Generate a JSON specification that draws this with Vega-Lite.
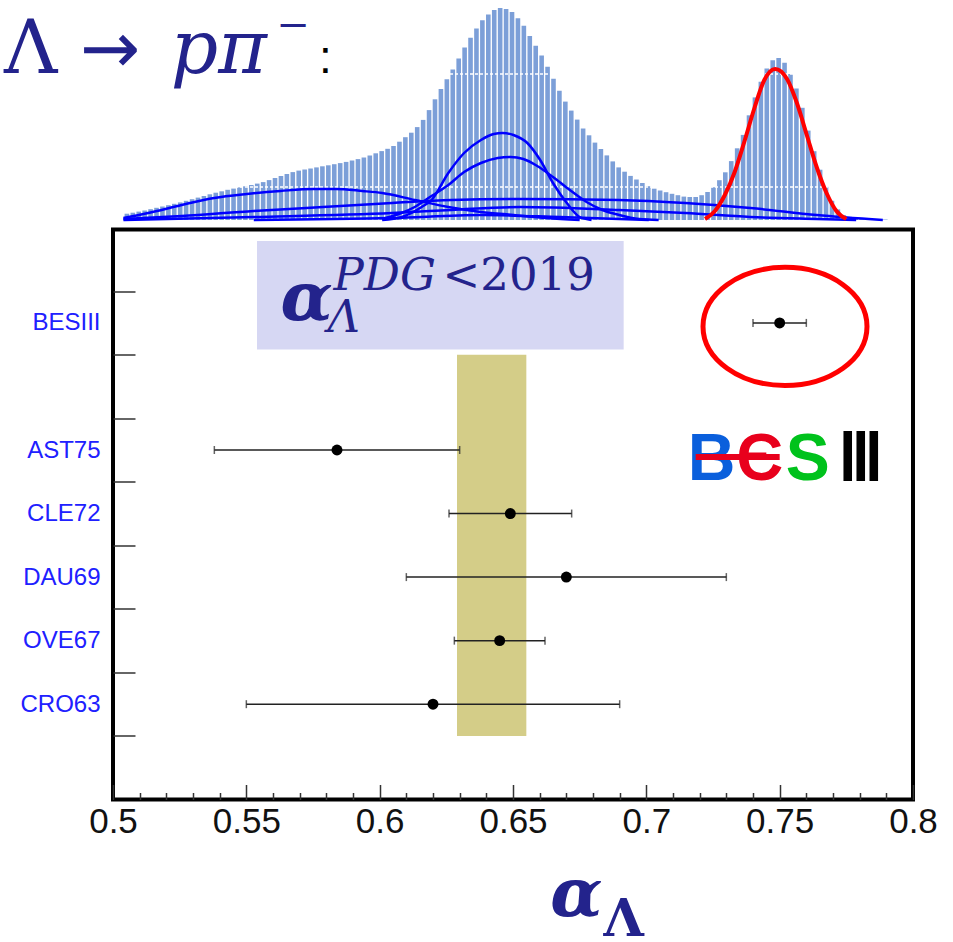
{
  "$schema": "https://vega.github.io/schema/vega-lite/v6.json",
  "background": "white",
  "padding": {"left": 3, "top": 0, "right": 5, "bottom": 2},
  "autosize": {"type": "pad"},
  "spacing": 9.5,
  "bounds": "flush",
  "config": {"view": {"stroke": null}, "font": "Liberation Sans"},
  "datasets": {
    "hist": [
      {"x":9,"h":6.3},{"x":15,"h":7.3},{"x":21,"h":8.4},{"x":27,"h":9.5},{"x":33,"h":10.8},{"x":39,"h":12.2},{"x":45,"h":13.5},{"x":51,"h":14.8},{"x":57,"h":16.2},{"x":63,"h":17.6},
      {"x":69,"h":19.2},{"x":75,"h":20.8},{"x":81,"h":22.4},{"x":87,"h":24},{"x":93,"h":25.7},{"x":99,"h":27.3},{"x":105,"h":28.7},{"x":111,"h":30.2},{"x":117,"h":31.4},{"x":123,"h":32.6},
      {"x":129,"h":33.7},{"x":135,"h":35},{"x":141,"h":36.4},{"x":147,"h":37.9},{"x":153,"h":39.9},{"x":159,"h":42},{"x":165,"h":44},{"x":171,"h":46},{"x":177,"h":47.9},{"x":183,"h":49.4},
      {"x":189,"h":50.5},{"x":195,"h":51.5},{"x":201,"h":52.6},{"x":207,"h":53.7},{"x":213,"h":54.7},{"x":219,"h":55.8},{"x":225,"h":56.9},{"x":231,"h":58.1},{"x":237,"h":59.5},{"x":243,"h":60.9},
      {"x":249,"h":62.5},{"x":255,"h":64.6},{"x":261,"h":66.7},{"x":267,"h":68.9},{"x":273,"h":71.2},{"x":279,"h":74},{"x":285,"h":78.3},{"x":291,"h":82.8},{"x":297,"h":87.3},{"x":303,"h":92.9},
      {"x":309,"h":100.1},{"x":315,"h":109.9},{"x":321,"h":120.7},{"x":327,"h":130.9},{"x":333,"h":140.8},{"x":339,"h":150.4},{"x":345,"h":161.4},{"x":351,"h":172.6},{"x":357,"h":182.2},{"x":363,"h":191.4},
      {"x":369,"h":199.8},{"x":375,"h":205.5},{"x":381,"h":210.1},{"x":387,"h":212.1},{"x":393,"h":211.1},{"x":399,"h":207.9},{"x":405,"h":201.7},{"x":411,"h":194.3},{"x":417,"h":184.1},{"x":423,"h":174.2},
      {"x":429,"h":164.6},{"x":435,"h":153.2},{"x":441,"h":141.2},{"x":447,"h":129.2},{"x":453,"h":118.4},{"x":459,"h":109.4},{"x":465,"h":100.4},{"x":471,"h":91.5},{"x":477,"h":84.7},{"x":483,"h":77.4},
      {"x":489,"h":71},{"x":495,"h":64.6},{"x":501,"h":58.6},{"x":507,"h":52.6},{"x":513,"h":48.3},{"x":519,"h":44.1},{"x":525,"h":40.5},{"x":531,"h":37},{"x":537,"h":33.8},{"x":543,"h":31.3},
      {"x":549,"h":29.5},{"x":555,"h":27.8},{"x":561,"h":26.2},{"x":567,"h":24.8},{"x":573,"h":23.4},{"x":579,"h":23},{"x":585,"h":23},{"x":591,"h":24.8},{"x":597,"h":28},{"x":603,"h":32.7},
      {"x":609,"h":39.8},{"x":615,"h":47.7},{"x":621,"h":58.9},{"x":627,"h":71.7},{"x":633,"h":85.1},{"x":639,"h":104.7},{"x":645,"h":122.6},{"x":651,"h":138.3},{"x":657,"h":151.4},{"x":663,"h":159.7},
      {"x":669,"h":162},{"x":675,"h":157.3},{"x":681,"h":146},{"x":687,"h":131.5},{"x":693,"h":112.2},{"x":699,"h":89.4},{"x":705,"h":68.8},{"x":711,"h":50.3},{"x":717,"h":33.2},{"x":723,"h":19.2},
      {"x":729,"h":10.6},{"x":735,"h":4.9},{"x":741,"h":3.1},{"x":747,"h":1.9},{"x":753,"h":1.4},{"x":759,"h":1},{"x":765,"h":0.8},{"x":771,"h":0.6},{"x":777,"h":0.5}
    ],
    "grid": [{"h": 33}, {"h": 146}],
    "curves": [
      {"curve":"A","x":267.5,"h":0},{"curve":"A","x":287.5,"h":3},{"curve":"A","x":307.5,"h":13},{"curve":"A","x":317.5,"h":20},{"curve":"A","x":334.5,"h":47},{"curve":"A","x":350.5,"h":67},{"curve":"A","x":367.5,"h":80},{"curve":"A","x":380.5,"h":86},{"curve":"A","x":389.5,"h":87},{"curve":"A","x":400.5,"h":85},{"curve":"A","x":414.5,"h":77},{"curve":"A","x":427.5,"h":60},{"curve":"A","x":440.5,"h":37},{"curve":"A","x":454.5,"h":17},{"curve":"A","x":467.5,"h":3},{"curve":"A","x":479.5,"h":0},
      {"curve":"B","x":267.5,"h":1},{"curve":"B","x":284.5,"h":6},{"curve":"B","x":300.5,"h":13},{"curve":"B","x":317.5,"h":24},{"curve":"B","x":334.5,"h":35},{"curve":"B","x":350.5,"h":48},{"curve":"B","x":367.5,"h":57},{"curve":"B","x":384.5,"h":62},{"curve":"B","x":397.5,"h":63},{"curve":"B","x":410.5,"h":61},{"curve":"B","x":424.5,"h":54},{"curve":"B","x":440.5,"h":43},{"curve":"B","x":457.5,"h":30},{"curve":"B","x":474.5,"h":18},{"curve":"B","x":490.5,"h":10},{"curve":"B","x":507.5,"h":5},{"curve":"B","x":527.5,"h":1},{"curve":"B","x":547.5,"h":0},
      {"curve":"C","x":5.5,"h":2},{"curve":"C","x":30.5,"h":7},{"curve":"C","x":64.5,"h":15},{"curve":"C","x":97.5,"h":22},{"curve":"C","x":130.5,"h":26},{"curve":"C","x":164.5,"h":29},{"curve":"C","x":197.5,"h":31},{"curve":"C","x":220.5,"h":31},{"curve":"C","x":247.5,"h":29},{"curve":"C","x":267.5,"h":27},{"curve":"C","x":300.5,"h":20},{"curve":"C","x":334.5,"h":13},{"curve":"C","x":367.5,"h":8},{"curve":"C","x":400.5,"h":5},{"curve":"C","x":434.5,"h":2},{"curve":"C","x":467.5,"h":0},
      {"curve":"D1","x":5.5,"h":1},{"curve":"D1","x":64.5,"h":4},{"curve":"D1","x":137.5,"h":9},{"curve":"D1","x":207.5,"h":13},{"curve":"D1","x":277.5,"h":17},{"curve":"D1","x":337.5,"h":20},{"curve":"D1","x":407.5,"h":21},{"curve":"D1","x":507.5,"h":20},{"curve":"D1","x":574.5,"h":17},{"curve":"D1","x":640.5,"h":12},{"curve":"D1","x":707.5,"h":5},{"curve":"D1","x":774.5,"h":0},
      {"curve":"D2","x":5.5,"h":0},{"curve":"D2","x":137.5,"h":3},{"curve":"D2","x":277.5,"h":7},{"curve":"D2","x":337.5,"h":10},{"curve":"D2","x":407.5,"h":13},{"curve":"D2","x":507.5,"h":10},{"curve":"D2","x":574.5,"h":7},{"curve":"D2","x":640.5,"h":3},{"curve":"D2","x":707.5,"h":1},{"curve":"D2","x":747.5,"h":0},
      {"curve":"D3","x":137.5,"h":0},{"curve":"D3","x":277.5,"h":2},{"curve":"D3","x":367.5,"h":5},{"curve":"D3","x":447.5,"h":3},{"curve":"D3","x":537.5,"h":0}
    ],
    "signal": [
      {"x":594.5,"h":1},{"x":604.5,"h":9},{"x":614.5,"h":25},{"x":624.5,"h":48},{"x":634.5,"h":79},{"x":644.5,"h":112},{"x":654.5,"h":140},{"x":665.5,"h":151},{"x":677.5,"h":141},{"x":687.5,"h":117},{"x":697.5,"h":85},{"x":707.5,"h":53},{"x":717.5,"h":27},{"x":727.5,"h":9},{"x":737.5,"h":1}
    ],
    "meas": [
      {"name":"BESIII","row":7.5,"val":0.750,"lo":0.740,"hi":0.760},
      {"name":"AST75","row":5.5,"val":0.584,"lo":0.538,"hi":0.630},
      {"name":"CLE72","row":4.5,"val":0.649,"lo":0.626,"hi":0.672},
      {"name":"DAU69","row":3.5,"val":0.670,"lo":0.610,"hi":0.730},
      {"name":"OVE67","row":2.5,"val":0.645,"lo":0.628,"hi":0.662},
      {"name":"CRO63","row":1.5,"val":0.620,"lo":0.550,"hi":0.690}
    ]
  },
  "vconcat": [
    {
      "width": 800,
      "height": 220,
      "layer": [
        {
          "data": {"name": "hist"},
          "mark": {"type": "bar", "width": 4.6, "color": "#7c9fd8"},
          "encoding": {
            "x": {"field": "x", "type": "quantitative", "scale": {"domain": [0, 800], "nice": false}, "axis": null},
            "y": {"field": "h", "type": "quantitative", "scale": {"domain": [0, 220], "nice": false}, "axis": null}
          }
        },
        {
          "data": {"name": "grid"},
          "mark": {"type": "rule", "color": "white", "strokeWidth": 1.5, "strokeDash": [3, 2]},
          "encoding": {
            "y": {"field": "h", "type": "quantitative", "scale": {"domain": [0, 220], "nice": false}, "axis": null}
          }
        },
        {
          "data": {"name": "curves"},
          "mark": {"type": "line", "color": "#0000ff", "strokeWidth": 2.5, "interpolate": "monotone"},
          "encoding": {
            "x": {"field": "x", "type": "quantitative", "scale": {"domain": [0, 800], "nice": false}, "axis": null},
            "y": {"field": "h", "type": "quantitative", "scale": {"domain": [0, 220], "nice": false}, "axis": null},
            "detail": {"field": "curve"}
          }
        },
        {
          "data": {"name": "signal"},
          "mark": {"type": "line", "color": "#ff0000", "strokeWidth": 4, "interpolate": "monotone"},
          "encoding": {
            "x": {"field": "x", "type": "quantitative", "scale": {"domain": [0, 800], "nice": false}, "axis": null},
            "y": {"field": "h", "type": "quantitative", "scale": {"domain": [0, 220], "nice": false}, "axis": null}
          }
        },
        {
          "data": {"values": [{"t": "Λ", "x": -115.5, "h": 147}]},
          "mark": {"type": "text", "font": "DejaVu Serif", "fontSize": 74, "color": "#23238c", "align": "left", "baseline": "alphabetic"},
          "encoding": {
            "x": {"field": "x", "type": "quantitative", "axis": null},
            "y": {"field": "h", "type": "quantitative", "axis": null},
            "text": {"field": "t"}
          }
        },
        {
          "data": {"values": [{"t": "→", "x": -38.5, "h": 147}]},
          "mark": {"type": "text", "font": "DejaVu Sans", "fontSize": 72, "color": "#23238c", "align": "left", "baseline": "alphabetic"},
          "encoding": {
            "x": {"field": "x", "type": "quantitative", "axis": null},
            "y": {"field": "h", "type": "quantitative", "axis": null},
            "text": {"field": "t"}
          }
        },
        {
          "data": {"values": [{"t": "pπ", "x": 53.5, "h": 147}]},
          "mark": {"type": "text", "font": "DejaVu Serif", "fontStyle": "italic", "fontSize": 74, "color": "#23238c", "align": "left", "baseline": "alphabetic"},
          "encoding": {
            "x": {"field": "x", "type": "quantitative", "axis": null},
            "y": {"field": "h", "type": "quantitative", "axis": null},
            "text": {"field": "t"}
          }
        },
        {
          "data": {"values": [{"t": "−", "x": 160.5, "h": 182}]},
          "mark": {"type": "text", "font": "DejaVu Serif", "fontSize": 40, "color": "#23238c", "align": "left", "baseline": "alphabetic"},
          "encoding": {
            "x": {"field": "x", "type": "quantitative", "axis": null},
            "y": {"field": "h", "type": "quantitative", "axis": null},
            "text": {"field": "t"}
          }
        },
        {
          "data": {"values": [{"t": ":", "x": 203.5, "h": 147}]},
          "mark": {"type": "text", "font": "Liberation Sans", "fontSize": 46, "color": "#000000", "align": "left", "baseline": "alphabetic"},
          "encoding": {
            "x": {"field": "x", "type": "quantitative", "axis": null},
            "y": {"field": "h", "type": "quantitative", "axis": null},
            "text": {"field": "t"}
          }
        }
      ]
    },
    {
      "width": 800,
      "height": 570,
      "view": {"stroke": "black", "strokeWidth": 4},
      "resolve": {"axis": {"x": "independent", "y": "independent"}},
      "layer": [
        {
          "data": {"values": [{"lo": 0.629, "hi": 0.655, "ylo": 1, "yhi": 7}]},
          "mark": {"type": "rect", "color": "#d4cd88"},
          "encoding": {
            "x": {"field": "lo", "type": "quantitative", "scale": {"domain": [0.5, 0.8], "nice": false},
                  "axis": {"orient": "bottom", "values": [0.51,0.52,0.53,0.54,0.56,0.57,0.58,0.59,0.61,0.62,0.63,0.64,0.66,0.67,0.68,0.69,0.71,0.72,0.73,0.74,0.76,0.77,0.78,0.79],
                           "labels": false, "tickSize": -7, "tickWidth": 1.5, "tickColor": "#333333", "domain": false, "grid": false, "title": null}},
            "x2": {"field": "hi"},
            "y": {"field": "ylo", "type": "quantitative", "scale": {"domain": [0, 8.97], "nice": false},
                  "axis": {"orient": "left", "values": [1,2,3,4,5,6,7,8], "labels": false, "tickSize": -22, "tickWidth": 1.5, "tickColor": "#333333", "domain": false, "grid": false, "title": null}},
            "y2": {"field": "yhi"}
          }
        },
        {
          "data": {"values": [{"lo": 0.554, "hi": 0.6915, "ylo": 7.08, "yhi": 8.79}]},
          "mark": {"type": "rect", "color": "#d6d7f3"},
          "encoding": {
            "x": {"field": "lo", "type": "quantitative", "scale": {"domain": [0.5, 0.8], "nice": false}, "axis": null},
            "x2": {"field": "hi"},
            "y": {"field": "ylo", "type": "quantitative", "scale": {"domain": [0, 8.97], "nice": false}, "axis": null},
            "y2": {"field": "yhi"}
          }
        },
        {
          "data": {"values": [{"t": "α", "x": 0.5628, "row": 7.547}]},
          "mark": {"type": "text", "font": "DejaVu Serif", "fontStyle": "italic", "fontWeight": "bold", "fontSize": 68, "color": "#23238c", "align": "left", "baseline": "alphabetic"},
          "encoding": {
            "x": {"field": "x", "type": "quantitative", "axis": null},
            "y": {"field": "row", "type": "quantitative", "axis": null},
            "text": {"field": "t"}
          }
        },
        {
          "data": {"values": [{"t": "PDG", "x": 0.5827, "row": 8.02}, {"t": "Λ", "x": 0.5804, "row": 7.36}]},
          "mark": {"type": "text", "font": "DejaVu Serif", "fontStyle": "italic", "fontSize": 45, "color": "#23238c", "align": "left", "baseline": "alphabetic"},
          "encoding": {
            "x": {"field": "x", "type": "quantitative", "axis": null},
            "y": {"field": "row", "type": "quantitative", "axis": null},
            "text": {"field": "t"}
          }
        },
        {
          "data": {"values": [{"t": "<2019", "x": 0.6236, "row": 8.02}]},
          "mark": {"type": "text", "font": "DejaVu Serif", "fontSize": 45, "color": "#23238c", "align": "left", "baseline": "alphabetic"},
          "encoding": {
            "x": {"field": "x", "type": "quantitative", "axis": null},
            "y": {"field": "row", "type": "quantitative", "axis": null},
            "text": {"field": "t"}
          }
        },
        {
          "data": {"values": [{"x": 0.752, "row": 7.445}]},
          "mark": {"type": "point", "shape": "M-1,0A1,0.72,0,1,1,1,0A1,0.72,0,1,1,-1,0Z", "size": 26896, "filled": false, "stroke": "#ff0000", "strokeWidth": 5, "opacity": 1},
          "encoding": {
            "x": {"field": "x", "type": "quantitative", "axis": null},
            "y": {"field": "row", "type": "quantitative", "axis": null}
          }
        },
        {
          "data": {"name": "meas"},
          "mark": {"type": "rule", "color": "#222222", "strokeWidth": 1.5},
          "encoding": {
            "x": {"field": "lo", "type": "quantitative", "scale": {"domain": [0.5, 0.8], "nice": false},
                  "axis": {"orient": "bottom", "values": [0.5,0.55,0.6,0.65,0.7,0.75,0.8], "format": ".2~f", "tickSize": -15, "tickWidth": 1.5, "tickColor": "#333333",
                           "labelFont": "Liberation Sans", "labelFontSize": 35, "labelColor": "#111111", "labelPadding": 20, "labelFlush": false,
                           "domain": false, "grid": false, "title": null}},
            "x2": {"field": "hi"},
            "y": {"field": "row", "type": "quantitative", "scale": {"domain": [0, 8.97], "nice": false},
                  "axis": {"orient": "left", "values": [1.5,2.5,3.5,4.5,5.5,7.5],
                           "labelExpr": "datum.value == 1.5 ? 'CRO63' : datum.value == 2.5 ? 'OVE67' : datum.value == 3.5 ? 'DAU69' : datum.value == 4.5 ? 'CLE72' : datum.value == 5.5 ? 'AST75' : datum.value == 7.5 ? 'BESIII' : ''",
                           "ticks": false, "tickSize": 0, "labelPadding": 13, "labelFont": "Liberation Sans", "labelFontSize": 24, "labelColor": "#2020ff",
                           "domain": false, "grid": false, "title": null}}
          }
        },
        {
          "data": {"name": "meas"},
          "mark": {"type": "tick", "orient": "vertical", "size": 8, "thickness": 1.5, "color": "#222222"},
          "encoding": {
            "x": {"field": "lo", "type": "quantitative", "axis": null},
            "y": {"field": "row", "type": "quantitative", "axis": null}
          }
        },
        {
          "data": {"name": "meas"},
          "mark": {"type": "tick", "orient": "vertical", "size": 8, "thickness": 1.5, "color": "#222222"},
          "encoding": {
            "x": {"field": "hi", "type": "quantitative", "axis": null},
            "y": {"field": "row", "type": "quantitative", "axis": null}
          }
        },
        {
          "data": {"name": "meas"},
          "mark": {"type": "circle", "size": 120, "color": "#000000", "opacity": 1},
          "encoding": {
            "x": {"field": "val", "type": "quantitative", "axis": null},
            "y": {"field": "row", "type": "quantitative", "axis": null}
          }
        },
        {
          "data": {"values": [{"t": "B", "x": 0.7245, "row": 5.03}, {"t": "Є", "x": 0.7425, "row": 5.03}, {"t": "S", "x": 0.7605, "row": 5.03}, {"t": "Ⅲ", "x": 0.7805, "row": 5.03}]},
          "mark": {"type": "text", "font": "Liberation Sans", "fontWeight": "bold", "fontSize": 66, "align": "center", "baseline": "alphabetic"},
          "encoding": {
            "x": {"field": "x", "type": "quantitative", "axis": null},
            "y": {"field": "row", "type": "quantitative", "axis": null},
            "text": {"field": "t"},
            "color": {"field": "t", "type": "nominal", "scale": {"domain": ["B", "Є", "S", "Ⅲ"], "range": ["#0a5fdc", "#e8001c", "#00c21c", "#000000"]}, "legend": null}
          }
        },
        {
          "data": {"values": [{"lo": 0.7185, "hi": 0.7500, "row": 5.39}]},
          "mark": {"type": "rule", "color": "#e8001c", "strokeWidth": 6},
          "encoding": {
            "x": {"field": "lo", "type": "quantitative", "axis": null},
            "x2": {"field": "hi"},
            "y": {"field": "row", "type": "quantitative", "axis": null}
          }
        },
        {
          "data": {"values": [{"t": "α", "x": 0.664, "row": -1.84}]},
          "mark": {"type": "text", "font": "DejaVu Serif", "fontStyle": "italic", "fontWeight": "bold", "fontSize": 68, "color": "#23238c", "align": "left", "baseline": "alphabetic"},
          "encoding": {
            "x": {"field": "x", "type": "quantitative", "axis": null},
            "y": {"field": "row", "type": "quantitative", "axis": null},
            "text": {"field": "t"}
          }
        },
        {
          "data": {"values": [{"t": "Λ", "x": 0.6839, "row": -2.154}]},
          "mark": {"type": "text", "font": "DejaVu Serif", "fontWeight": "bold", "fontSize": 52, "color": "#23238c", "align": "left", "baseline": "alphabetic"},
          "encoding": {
            "x": {"field": "x", "type": "quantitative", "axis": null},
            "y": {"field": "row", "type": "quantitative", "axis": null},
            "text": {"field": "t"}
          }
        }
      ]
    }
  ]
}
